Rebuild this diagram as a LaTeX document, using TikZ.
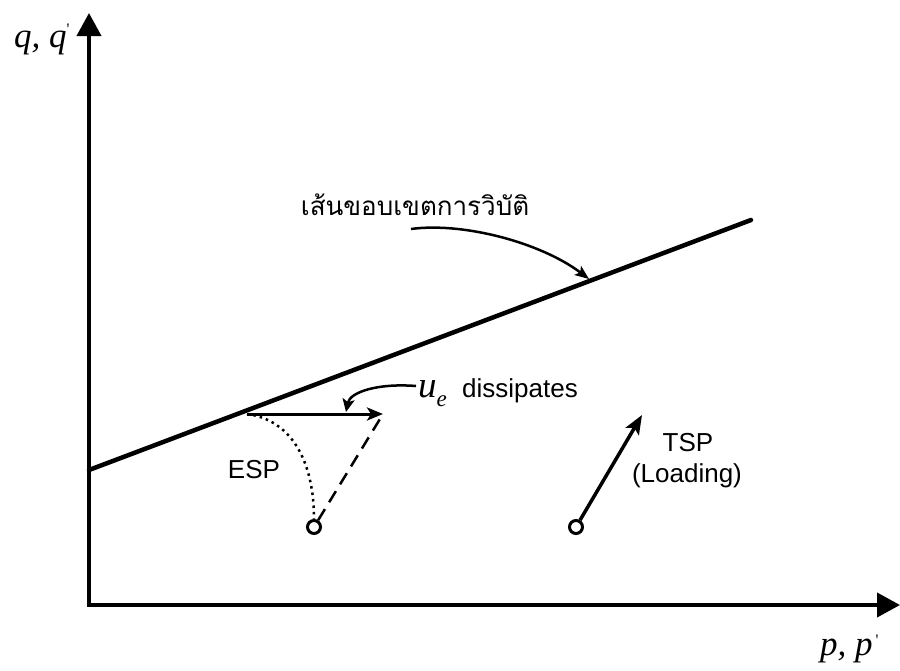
\documentclass[tikz,border=0pt]{standalone}
\usepackage{fontspec}
\setmainfont{Liberation Sans}
\newfontfamily\tnr{Liberation Serif}
\newfontfamily\thaifont[Script=Thai]{Loma}
\usetikzlibrary{arrows.meta}
\begin{document}
\begin{tikzpicture}[x=1pt,y=-1pt,
  axis/.style={line width=4pt, line join=miter,
    {Triangle[length=23pt,width=24pt]}-{Triangle[length=23pt,width=24pt]}},
  fline/.style={line width=4.5pt, line cap=round},
  pathline/.style={line width=3pt},
  pt/.style={circle, draw, line width=3pt, minimum size=13pt, inner sep=0pt, fill=white},
  lbl/.style={font=\fontsize{26}{30}\selectfont, inner sep=0pt},
  mathlbl/.style={font=\tnr\itshape\fontsize{35}{35}\selectfont, inner sep=0pt, anchor=base west},
  ptr/.style={line width=2.5pt, -{Stealth[length=14pt,width=11pt,inset=3pt]}}]
\useasboundingbox (0,0) rectangle (900,670);
% axes
\coordinate (Ytop) at (89,13);
\coordinate (O) at (89,605);
\coordinate (Xend) at (900,605);
\draw[axis] (Ytop) -- (O) -- (Xend);
\node[mathlbl] (qlab) at (14,47) {q, q\raisebox{13pt}{\fontsize{16}{16}\selectfont\upshape '}};
\node[mathlbl] (plab) at (820,655) {p, p\hspace{3pt}\raisebox{10pt}{\fontsize{16}{16}\selectfont\upshape '}};
% failure line
\coordinate (F1) at (89,470);
\coordinate (F2) at (751,220);
\draw[fline] (F1) -- (F2);
\node[lbl, anchor=base] (thai) at (415,215) {\thaifont เส้นขอบเขตการวิบัติ};
\coordinate (C1) at (411,229);
\coordinate (C2) at (589,279);
\draw[ptr] (C1) .. controls (462,222) and (540,242) .. (C2);
% ESP
\coordinate (A) at (247,414);
\coordinate (B) at (383,414);
\node[pt] (esp0) at (314,527) {};
\draw[line width=2.5pt, dash pattern=on 2.5pt off 4pt] (A) .. controls (292,420) and (314,462) .. (esp0.north);
\draw[line width=2.5pt, dash pattern=on 13pt off 8pt] (esp0) -- (B);
\draw[pathline, -{Stealth[length=16pt,width=13pt,inset=4pt]}] (A) -- (B);
\node[lbl] (esp) at (254,470) {ESP};
% u_e dissipates
\node[mathlbl, font=\tnr\itshape\fontsize{37}{37}\selectfont] (ue) at (418,397) {u\raisebox{-9pt}{\fontsize{23}{23}\selectfont e}};
\node[lbl, anchor=base west] (dis) at (462,397) {dissipates};
\coordinate (U1) at (416,386);
\coordinate (U2) at (346,412);
\draw[line width=2.5pt, -{Stealth[length=13pt,width=12pt,inset=3pt]}] (U1) .. controls (378,383) and (350,392) .. (U2);
% TSP
\node[pt] (tsp0) at (576,527) {};
\coordinate (T) at (642,415);
\draw[line width=3.5pt, -{Stealth[length=19pt,width=15pt,inset=4pt]}] (tsp0) -- (T);
\node[lbl] (tsp) at (688,443) {TSP};
\node[lbl] (load) at (687,476) {(Loading)};
\end{tikzpicture}
\end{document}
